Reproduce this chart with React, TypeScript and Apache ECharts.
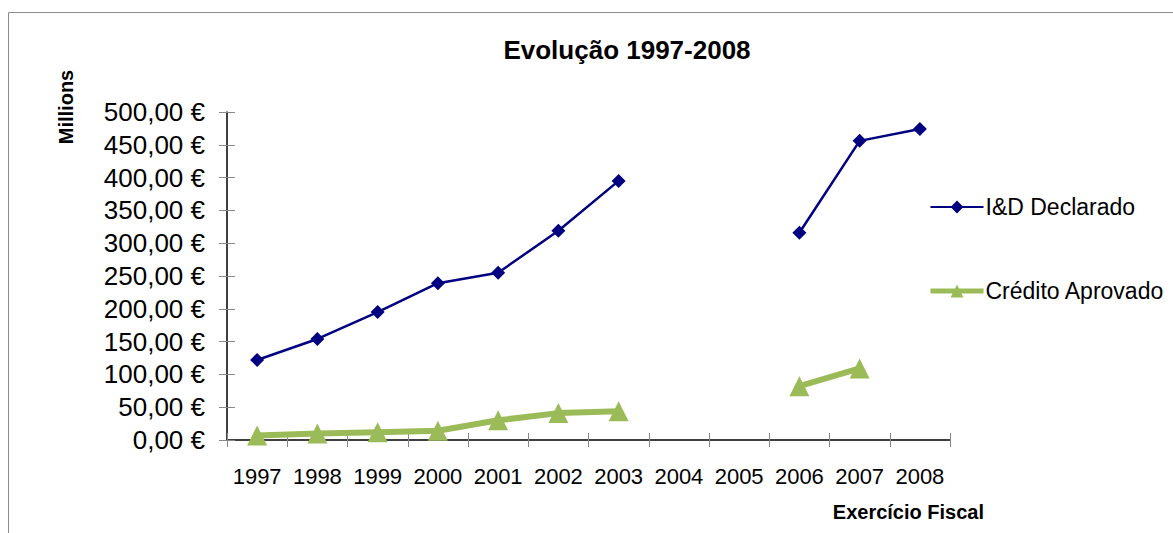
import React, { useEffect, useRef } from "react";
import * as echarts from "echarts";

const years = ["1997", "1998", "1999", "2000", "2001", "2002", "2003", "2004", "2005", "2006", "2007", "2008"];
const declarado: (number | null)[] = [122, 154, 195, 239, 255, 319, 395, null, null, 316, 456, 474];
const credito: (number | null)[] = [7, 10, 12, 14, 30, 41, 44, null, null, 82, 109, null];
const yTicks = { min: 0, max: 500, interval: 50 };
const FONT = "Liberation Sans, Arial, sans-serif";

export default function App() {
  const ref = useRef<HTMLDivElement>(null);
  useEffect(() => {
    document.body.style.margin = "0";
    const chart = echarts.init(ref.current!, null, { renderer: "svg" });
    const fmt = (v: number) => v.toFixed(2).replace(".", ",") + " €";
    chart.setOption({
      animation: false,
      backgroundColor: "#ffffff",
      textStyle: { fontFamily: FONT },
      title: {
        text: "Evolução 1997-2008",
        left: 622,
        top: 32,
        textAlign: "center",
        textStyle: { fontFamily: FONT, fontSize: 26, fontWeight: "bold", color: "#000" },
      },
      legend: {
        orient: "vertical",
        left: 923,
        top: 189,
        itemWidth: 53,
        itemHeight: 16,
        itemGap: 58,
        textStyle: { fontFamily: FONT, fontSize: 23, color: "#000", lineHeight: 26, padding: [0, 0, 0, -3] },
        data: [
          { name: "I&D Declarado", lineStyle: { width: 2 } },
          { name: "Crédito Aprovado", lineStyle: { width: 5 } },
        ],
      },
      grid: { left: 227, right: 223, top: 112, bottom: 93, containLabel: false },
      xAxis: [
        {
          type: "category",
          data: years,
          boundaryGap: true,
          axisLine: { lineStyle: { color: "#000", width: 1.5 } },
          axisTick: { show: true, length: 7, lineStyle: { color: "#888" } },
          axisLabel: { fontFamily: FONT, fontSize: 22, color: "#000", margin: 25, interval: 0 },
        },
        {
          type: "category",
          data: years,
          position: "bottom",
          boundaryGap: true,
          axisLine: { show: false },
          axisTick: { show: true, inside: true, length: 7, lineStyle: { color: "#888" } },
          axisLabel: { show: false },
        },
      ],
      yAxis: [
        {
          type: "value",
          min: yTicks.min,
          max: yTicks.max,
          interval: yTicks.interval,
          axisLine: { show: true, lineStyle: { color: "#000", width: 1.5 } },
          axisTick: { show: true, length: 8, lineStyle: { color: "#888" } },
          splitLine: { show: false },
          axisLabel: { fontFamily: FONT, fontSize: 26, color: "#000", margin: 22, formatter: fmt },
        },
        {
          type: "value",
          min: yTicks.min,
          max: yTicks.max,
          interval: yTicks.interval,
          position: "left",
          axisLine: { show: false },
          axisTick: { show: true, inside: true, length: 8, lineStyle: { color: "#888" } },
          splitLine: { show: false },
          axisLabel: { show: false },
        },
      ],
      series: [
        {
          name: "I&D Declarado",
          type: "line",
          data: declarado,
          connectNulls: false,
          symbol: "diamond",
          symbolSize: 14,
          itemStyle: { color: "#000080" },
          lineStyle: { color: "#000080", width: 2.5 },
        },
        {
          name: "Crédito Aprovado",
          type: "line",
          data: credito,
          connectNulls: false,
          symbol: "triangle",
          symbolSize: 20,
          itemStyle: { color: "#9BBB59" },
          lineStyle: { color: "#9BBB59", width: 6 },
        },
      ],
      graphic: [
        {
          type: "rect",
          shape: { x: 8.5, y: 12.5, width: 1170, height: 530 },
          style: { fill: "none", stroke: "#8c8c8c", lineWidth: 1 },
          silent: true,
        },
        {
          type: "text",
          x: 66,
          y: 107,
          rotation: Math.PI / 2,
          style: {
            text: "Millions",
            fontFamily: FONT,
            fontSize: 20,
            fontWeight: "bold",
            fill: "#000",
            align: "center",
            verticalAlign: "middle",
          },
        },
        {
          type: "text",
          x: 984,
          y: 512,
          style: {
            text: "Exercício Fiscal",
            fontFamily: FONT,
            fontSize: 20,
            fontWeight: "bold",
            fill: "#000",
            align: "right",
            verticalAlign: "middle",
          },
        },
      ],
    });
    return () => chart.dispose();
  }, []);
  return <div ref={ref} style={{ width: 1173, height: 533 }} />;
}
